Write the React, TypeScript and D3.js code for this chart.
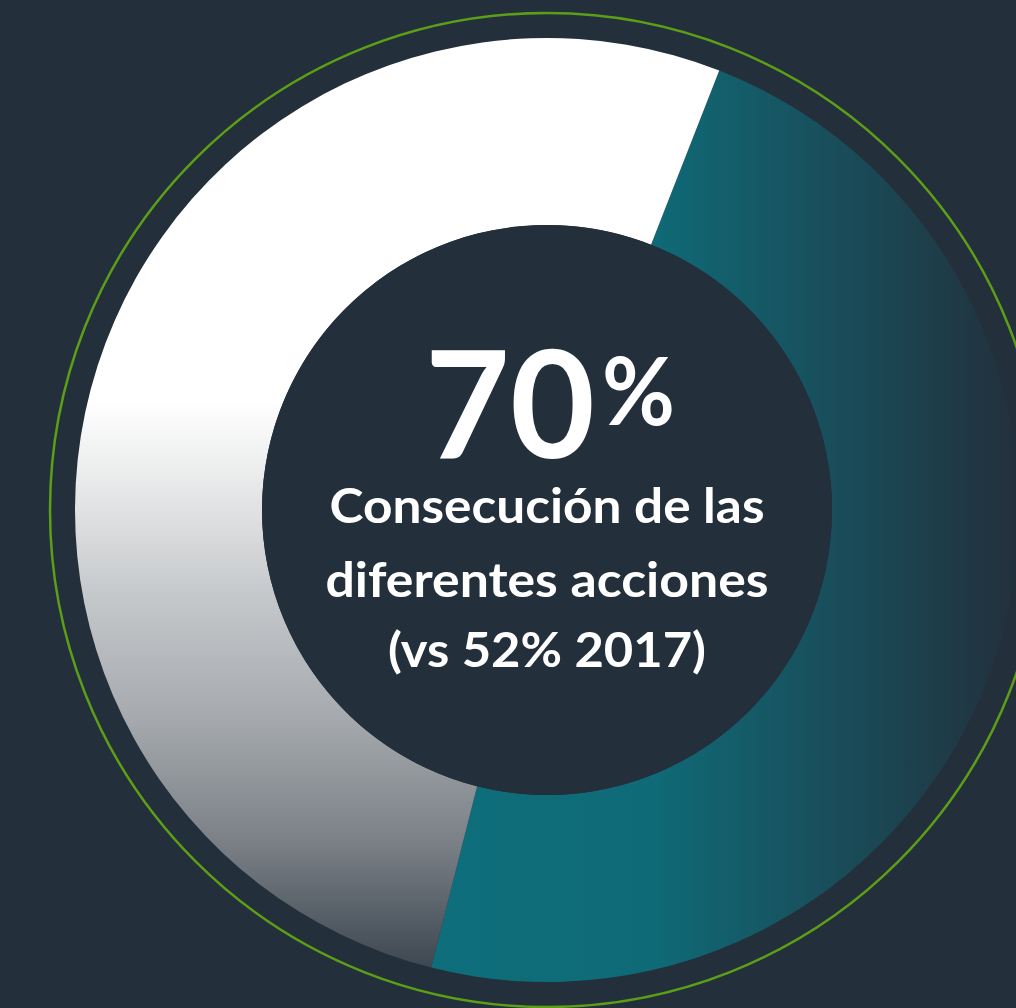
import React from "react";
import * as d3 from "d3";

const categories = ["Conseguido", "Resto"];
const values = [48, 52];
const sliceFills = ["url(#tealGrad)", "url(#whiteGrad)"];
const bigNumber = "70";
const bigUnit = "%";
const captionLines = ["Consecución de las", "diferentes acciones", "(vs 52% 2017)"];

const W = 1016;
const H = 1008;
const CX = 547;
const CY = 510;
const R_OUT = 472;
const R_IN = 285;
const R_RING = 497;
const START_DEG = 21.4;
const BG = "#232f3a";

export default function App() {
  React.useEffect(() => {
    document.body.style.margin = "0";
    document.body.style.background = BG;
  }, []);

  const start = (START_DEG * Math.PI) / 180;
  const pie = d3
    .pie<number>()
    .sort(null)
    .value((d) => d)
    .startAngle(start)
    .endAngle(start + 2 * Math.PI);
  const arcs = pie(values);
  const arc = d3.arc<d3.PieArcDatum<number>>().innerRadius(R_IN).outerRadius(R_OUT);

  const font = "Lato, 'Open Sans', sans-serif";
  const lineY = [523, 597, 667];
  const lineW = [435, 443, 318];

  // gradient positions in the group's (center-relative) coordinates
  const tx0 = 430 - CX;
  const tx1 = 1019 - CX;
  const wy0 = 38 - CY;
  const wy1 = 982 - CY;
  const wo = (y: number) => (y - 38) / 944;
  const to = (x: number) => (x - 430) / 589;

  return (
    <svg
      width={W}
      height={H}
      viewBox={`0 0 ${W} ${H}`}
      style={{ display: "block", position: "absolute", left: 0, top: 0 }}
    >
      <defs>
        <linearGradient id="tealGrad" gradientUnits="userSpaceOnUse" x1={tx0} y1={0} x2={tx1} y2={0}>
          <stop offset={0} stopColor="#0e6e7b" />
          <stop offset={to(650)} stopColor="#0f6a77" />
          <stop offset={to(830)} stopColor="#194e5b" />
          <stop offset={1} stopColor="#22303c" />
        </linearGradient>
        <linearGradient id="whiteGrad" gradientUnits="userSpaceOnUse" x1={0} y1={wy0} x2={0} y2={wy1}>
          <stop offset={wo(400)} stopColor="#ffffff" />
          <stop offset={wo(470)} stopColor="#eceded" />
          <stop offset={wo(600)} stopColor="#c4c7ca" />
          <stop offset={wo(720)} stopColor="#a5a9ad" />
          <stop offset={wo(840)} stopColor="#7b8187" />
          <stop offset={wo(970)} stopColor="#3c4650" />
          <stop offset={1} stopColor="#36404a" />
        </linearGradient>
      </defs>
      <rect x={0} y={0} width={W} height={H} fill={BG} />
      <circle cx={CX} cy={CY} r={R_RING} fill="none" stroke="#5c9e17" strokeWidth={2.5} />
      <g transform={`translate(${CX},${CY})`}>
        {arcs.map((a, i) => (
          <path key={categories[i]} d={arc(a) || ""} fill={sliceFills[i]} />
        ))}
        <circle r={R_IN} fill={BG} />
      </g>
      <g fill="#ffffff" fontFamily={font} fontWeight={700}>
        <text x={425} y={458} fontSize={150} textLength={170} lengthAdjust="spacingAndGlyphs">
          {bigNumber}
        </text>
        <text x={602} y={425} fontSize={94} textLength={73} lengthAdjust="spacingAndGlyphs">
          {bigUnit}
        </text>
        {captionLines.map((t, i) => (
          <text
            key={t}
            x={CX}
            y={lineY[i]}
            fontSize={48}
            textAnchor="middle"
            textLength={lineW[i]}
            lengthAdjust="spacingAndGlyphs"
          >
            {t}
          </text>
        ))}
      </g>
    </svg>
  );
}
